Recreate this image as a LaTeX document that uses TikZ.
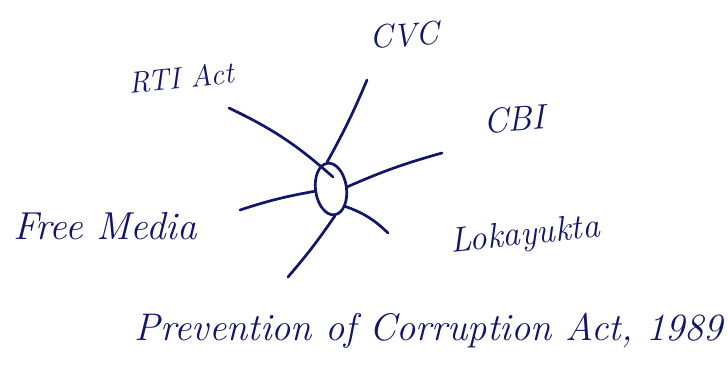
\documentclass[tikz,border=0pt]{standalone}
\usetikzlibrary{shapes.geometric}
\definecolor{ink}{RGB}{18,22,105}
\begin{document}
\begin{tikzpicture}[x=1pt,y=-1pt,
  ink line/.style={draw=ink,line width=2.7pt,line cap=round},
  lbl/.style={text=ink,font=\itshape\fontsize{30}{34}\selectfont,inner sep=0pt}]
\useasboundingbox (0,0) rectangle (728,370);
\fill[white] (0,0) rectangle (728,370);
% centre ring
\node[ink line,ellipse,minimum width=31pt,minimum height=52pt,inner sep=0pt,rotate=8] (c) at (331,189) {};
% labels
\node[lbl,rotate=6] (rti) at (181,78) {RTI Act};
\node[lbl,rotate=4,font=\itshape\fontsize{33}{36}\selectfont] (cvc) at (404,35) {CVC};
\node[lbl,rotate=4,font=\itshape\fontsize{35}{38}\selectfont] (cbi) at (514,119) {CBI};
\node[lbl,font=\itshape\fontsize{39}{42}\selectfont] (fm) at (105,226) {Free Media};
\node[lbl,rotate=6,font=\itshape\fontsize{35}{38}\selectfont] (lok) at (525,236) {Lokayukta};
\node[lbl,font=\itshape\fontsize{38.5}{42}\selectfont] (pca) at (429,331) {Prevention of Corruption Act, 1989};
% free ends
\coordinate (e1) at (229,108);
\coordinate (e2) at (367,80);
\coordinate (e3) at (442,153);
\coordinate (e4) at (240,210);
\coordinate (e5) at (388,233);
\coordinate (e6) at (288,277);
% spokes
\draw[ink line] (e1) to[bend left=8] (333,177);
\draw[ink line] (e2) to[bend left=3] (c.north);
\draw[ink line] (c.east) to[bend left=4] (e3);
\draw[ink line] (e4) to[bend left=4] (c.west);
\draw[ink line] (c.south east) to[bend left=12] (e5);
\draw[ink line] (c.south) to[bend left=3] (e6);
\end{tikzpicture}
\end{document}
